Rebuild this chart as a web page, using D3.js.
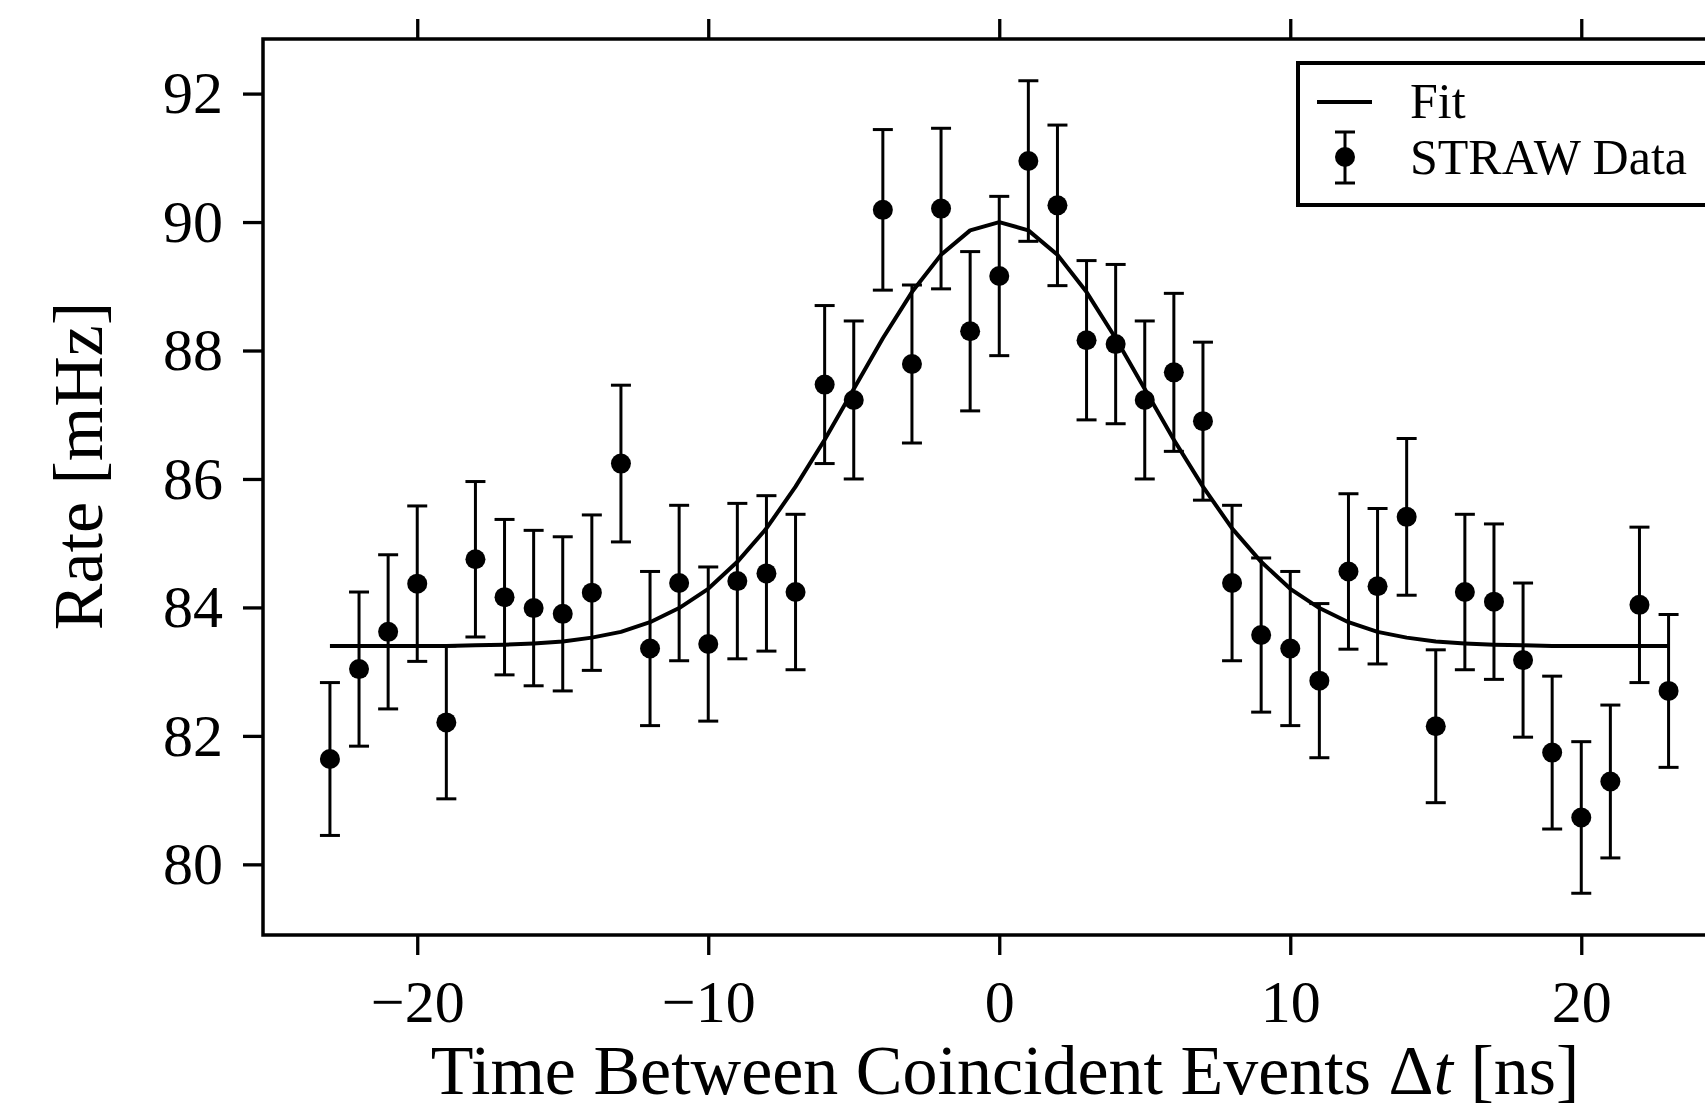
<!DOCTYPE html>
<html>
<head>
<meta charset="utf-8">
<script src="https://cdn.jsdelivr.net/npm/d3@7"></script>
<style>
  html, body { margin: 0; padding: 0; background: #fff; overflow: hidden; }
  svg { display: block; }
  text { font-family: "Liberation Serif", "DejaVu Serif", serif; fill: #000; }
</style>
</head>
<body>
<svg id="chart" width="1705" height="1109"></svg>
<script>
// ---- Data ----
const timeDelta = [-23,-22,-21,-20,-19,-18,-17,-16,-15,-14,-13,-12,-11,-10,-9,-8,-7,-6,-5,-4,-3,-2,-1,0,1,2,3,4,5,6,7,8,9,10,11,12,13,14,15,16,17,18,19,20,21,22,23];
const rate = [81.64,83.04,83.62,84.37,82.21,84.75,84.16,83.99,83.90,84.23,86.24,83.36,84.38,83.43,84.41,84.53,84.24,87.47,87.23,90.19,87.79,90.21,88.30,89.16,90.95,90.26,88.16,88.10,87.23,87.66,86.90,84.38,83.57,83.36,82.86,84.56,84.33,85.41,82.15,84.24,84.09,83.18,81.74,80.73,81.29,84.04,82.70];
const rateErr = [1.19,1.20,1.20,1.21,1.19,1.21,1.21,1.21,1.20,1.21,1.22,1.20,1.21,1.20,1.21,1.21,1.21,1.23,1.23,1.25,1.23,1.25,1.24,1.24,1.25,1.25,1.24,1.24,1.23,1.23,1.23,1.21,1.20,1.20,1.20,1.21,1.21,1.22,1.19,1.21,1.21,1.20,1.19,1.18,1.19,1.21,1.19];
const fitRate = [83.40,83.40,83.40,83.40,83.40,83.41,83.42,83.44,83.47,83.53,83.62,83.77,83.99,84.29,84.71,85.23,85.88,86.61,87.40,88.19,88.91,89.49,89.87,90.00,89.87,89.49,88.91,88.19,87.40,86.61,85.88,85.23,84.71,84.29,83.99,83.77,83.62,83.53,83.47,83.44,83.42,83.41,83.40,83.40,83.40,83.40,83.40];
const xTicks = [-20,-10,0,10,20];
const yTicks = [80,82,84,86,88,90,92];
const xLabelMain = "Time Between Coincident Events \u0394";
const xLabelItalic = "t";
const xLabelTail = " [ns]";
const yLabel = "Rate [mHz]";
const legendLabels = ["Fit", "STRAW Data"];

// ---- Layout ----
const L = 263, R = 1735.5, T = 39, B = 935;
const svg = d3.select("#chart");
svg.append("rect").attr("width",1705).attr("height",1109).attr("fill","#fff");

const x = d3.scaleLinear().domain([-25.3, 25.3]).range([L, R]);
const y = d3.scaleLinear().domain([78.9, 92.85]).range([B, T]);

const fmt = d => (d < 0 ? "\u2212" + Math.abs(d) : String(d));

// Axes
const gx = svg.append("g").attr("transform",`translate(0,${B})`)
  .call(d3.axisBottom(x).tickValues(xTicks).tickFormat(fmt).tickSize(20).tickSizeOuter(0).tickPadding(24));
const gxt = svg.append("g").attr("transform",`translate(0,${T})`)
  .call(d3.axisTop(x).tickValues(xTicks).tickFormat("").tickSize(20).tickSizeOuter(0));
const gy = svg.append("g").attr("transform",`translate(${L},0)`)
  .call(d3.axisLeft(y).tickValues(yTicks).tickFormat(fmt).tickSize(20).tickSizeOuter(0).tickPadding(20));

[gx, gxt, gy].forEach(g => {
  g.select(".domain").remove();
  g.selectAll(".tick line").attr("stroke","#000").attr("stroke-width",3.3);
  g.selectAll(".tick text").attr("font-size",60).attr("font-family","Liberation Serif").attr("fill","#000");
});

// Frame (spines)
svg.append("rect").attr("x",L).attr("y",T).attr("width",R-L).attr("height",B-T)
  .attr("fill","none").attr("stroke","#000").attr("stroke-width",3.5);

// Fit curve
const pts = timeDelta.map((t,i) => ({t, r: rate[i], e: rateErr[i], f: fitRate[i]}));
svg.append("path").datum(pts)
  .attr("d", d3.line().x(d => x(d.t)).y(d => y(d.f)))
  .attr("fill","none").attr("stroke","#000").attr("stroke-width",4).attr("stroke-linejoin","round");

// Error bars
const cap = 10;
const eb = svg.append("g").attr("stroke","#000").attr("stroke-width",3);
eb.selectAll("line.v").data(pts).join("line").attr("class","v")
  .attr("x1",d=>x(d.t)).attr("x2",d=>x(d.t)).attr("y1",d=>y(d.r-d.e)).attr("y2",d=>y(d.r+d.e));
eb.selectAll("line.ct").data(pts).join("line").attr("class","ct")
  .attr("x1",d=>x(d.t)-cap).attr("x2",d=>x(d.t)+cap).attr("y1",d=>y(d.r+d.e)).attr("y2",d=>y(d.r+d.e));
eb.selectAll("line.cb").data(pts).join("line").attr("class","cb")
  .attr("x1",d=>x(d.t)-cap).attr("x2",d=>x(d.t)+cap).attr("y1",d=>y(d.r-d.e)).attr("y2",d=>y(d.r-d.e));
svg.append("g").selectAll("circle").data(pts).join("circle")
  .attr("cx",d=>x(d.t)).attr("cy",d=>y(d.r)).attr("r",10).attr("fill","#000");

// Axis labels
const xl = svg.append("text").attr("x",1005).attr("y",1094).attr("text-anchor","middle").attr("font-size",70);
xl.append("tspan").text(xLabelMain);
xl.append("tspan").attr("font-style","italic").text(xLabelItalic);
xl.append("tspan").text(xLabelTail);

svg.append("text").attr("transform","translate(102,466) rotate(-90)")
  .attr("text-anchor","middle").attr("font-size",70).text(yLabel);

// Legend
const lg = svg.append("g");
lg.append("rect").attr("x",1298).attr("y",63).attr("width",430).attr("height",142)
  .attr("fill","#fff").attr("stroke","#000").attr("stroke-width",4);
lg.append("line").attr("x1",1317).attr("x2",1372).attr("y1",102).attr("y2",102)
  .attr("stroke","#000").attr("stroke-width",4);
lg.append("line").attr("x1",1345).attr("x2",1345).attr("y1",132).attr("y2",183).attr("stroke","#000").attr("stroke-width",3);
lg.append("line").attr("x1",1345-cap).attr("x2",1345+cap).attr("y1",132).attr("y2",132).attr("stroke","#000").attr("stroke-width",3);
lg.append("line").attr("x1",1345-cap).attr("x2",1345+cap).attr("y1",183).attr("y2",183).attr("stroke","#000").attr("stroke-width",3);
lg.append("circle").attr("cx",1345).attr("cy",157).attr("r",10).attr("fill","#000");
lg.append("text").attr("x",1410).attr("y",118).attr("font-size",50).text(legendLabels[0]);
lg.append("text").attr("x",1410).attr("y",174).attr("font-size",50).text(legendLabels[1]);
</script>
</body>
</html>
